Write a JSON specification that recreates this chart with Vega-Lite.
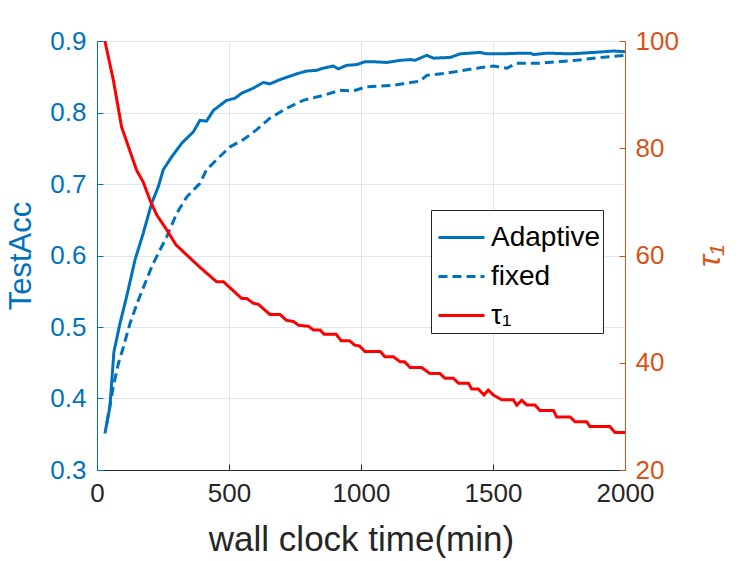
{
  "$schema": "https://vega.github.io/schema/vega-lite/v6.json",
  "width": 528,
  "height": 429,
  "autosize": {"type": "none"},
  "padding": {"left": 97, "top": 41, "right": 122, "bottom": 91},
  "background": "white",
  "config": {
    "font": "Liberation Sans",
    "view": {"stroke": "#262626", "strokeWidth": 1},
    "axis": {"labelFont": "Liberation Sans", "titleFont": "Liberation Sans", "titleFontWeight": "normal", "labelFontSize": 26, "titleFontSize": 32, "tickSize": -6, "domainWidth": 1}
  },
  "datasets": {
    "acc": [
      {"s":"Adaptive","t":30,"v":0.351},{"s":"Adaptive","t":49,"v":0.389},{"s":"Adaptive","t":64,"v":0.465},{"s":"Adaptive","t":87,"v":0.505},{"s":"Adaptive","t":112,"v":0.542},{"s":"Adaptive","t":144,"v":0.594},{"s":"Adaptive","t":175,"v":0.631},{"s":"Adaptive","t":207,"v":0.673},{"s":"Adaptive","t":232,"v":0.696},{"s":"Adaptive","t":251,"v":0.72},{"s":"Adaptive","t":283,"v":0.738},{"s":"Adaptive","t":321,"v":0.757},{"s":"Adaptive","t":365,"v":0.773},{"s":"Adaptive","t":390,"v":0.789},{"s":"Adaptive","t":415,"v":0.788},{"s":"Adaptive","t":441,"v":0.803},{"s":"Adaptive","t":491,"v":0.817},{"s":"Adaptive","t":523,"v":0.82},{"s":"Adaptive","t":548,"v":0.827},{"s":"Adaptive","t":592,"v":0.834},{"s":"Adaptive","t":630,"v":0.842},{"s":"Adaptive","t":655,"v":0.84},{"s":"Adaptive","t":693,"v":0.846},{"s":"Adaptive","t":756,"v":0.854},{"s":"Adaptive","t":794,"v":0.858},{"s":"Adaptive","t":832,"v":0.859},{"s":"Adaptive","t":857,"v":0.862},{"s":"Adaptive","t":895,"v":0.865},{"s":"Adaptive","t":914,"v":0.861},{"s":"Adaptive","t":946,"v":0.866},{"s":"Adaptive","t":984,"v":0.867},{"s":"Adaptive","t":1015,"v":0.871},{"s":"Adaptive","t":1047,"v":0.871},{"s":"Adaptive","t":1098,"v":0.87},{"s":"Adaptive","t":1150,"v":0.873},{"s":"Adaptive","t":1186,"v":0.874},{"s":"Adaptive","t":1205,"v":0.873},{"s":"Adaptive","t":1249,"v":0.88},{"s":"Adaptive","t":1275,"v":0.876},{"s":"Adaptive","t":1338,"v":0.877},{"s":"Adaptive","t":1375,"v":0.882},{"s":"Adaptive","t":1451,"v":0.884},{"s":"Adaptive","t":1477,"v":0.882},{"s":"Adaptive","t":1527,"v":0.882},{"s":"Adaptive","t":1616,"v":0.883},{"s":"Adaptive","t":1641,"v":0.883},{"s":"Adaptive","t":1654,"v":0.881},{"s":"Adaptive","t":1705,"v":0.883},{"s":"Adaptive","t":1793,"v":0.882},{"s":"Adaptive","t":1881,"v":0.884},{"s":"Adaptive","t":1957,"v":0.886},{"s":"Adaptive","t":2000,"v":0.885},
      {"s":"fixed","t":37,"v":0.365},{"s":"fixed","t":62,"v":0.417},{"s":"fixed","t":81,"v":0.449},{"s":"fixed","t":100,"v":0.472},{"s":"fixed","t":125,"v":0.505},{"s":"fixed","t":157,"v":0.538},{"s":"fixed","t":182,"v":0.561},{"s":"fixed","t":207,"v":0.584},{"s":"fixed","t":232,"v":0.603},{"s":"fixed","t":264,"v":0.626},{"s":"fixed","t":302,"v":0.659},{"s":"fixed","t":340,"v":0.682},{"s":"fixed","t":390,"v":0.701},{"s":"fixed","t":415,"v":0.72},{"s":"fixed","t":453,"v":0.734},{"s":"fixed","t":504,"v":0.752},{"s":"fixed","t":554,"v":0.762},{"s":"fixed","t":605,"v":0.776},{"s":"fixed","t":655,"v":0.792},{"s":"fixed","t":719,"v":0.806},{"s":"fixed","t":781,"v":0.817},{"s":"fixed","t":857,"v":0.824},{"s":"fixed","t":920,"v":0.831},{"s":"fixed","t":970,"v":0.83},{"s":"fixed","t":1021,"v":0.836},{"s":"fixed","t":1122,"v":0.838},{"s":"fixed","t":1224,"v":0.844},{"s":"fixed","t":1249,"v":0.852},{"s":"fixed","t":1325,"v":0.855},{"s":"fixed","t":1438,"v":0.862},{"s":"fixed","t":1502,"v":0.865},{"s":"fixed","t":1553,"v":0.862},{"s":"fixed","t":1590,"v":0.869},{"s":"fixed","t":1679,"v":0.869},{"s":"fixed","t":1816,"v":0.873},{"s":"fixed","t":1881,"v":0.876},{"s":"fixed","t":2000,"v":0.88}
    ],
    "tau": [
      {"s":"τ₁","t":30,"v":100},{"s":"τ₁","t":62,"v":92.7},{"s":"τ₁","t":93,"v":84},{"s":"τ₁","t":119,"v":80.3},{"s":"τ₁","t":150,"v":75.9},{"s":"τ₁","t":175,"v":73.7},{"s":"τ₁","t":201,"v":70.3},{"s":"τ₁","t":226,"v":67.6},{"s":"τ₁","t":264,"v":64.8},{"s":"τ₁","t":299,"v":62},{"s":"τ₁","t":340,"v":60.1},{"s":"τ₁","t":390,"v":57.8},{"s":"τ₁","t":453,"v":55.1},{"s":"τ₁","t":479,"v":55.1},{"s":"τ₁","t":548,"v":52},{"s":"τ₁","t":567,"v":52},{"s":"τ₁","t":592,"v":51.1},{"s":"τ₁","t":611,"v":50.9},{"s":"τ₁","t":655,"v":49},{"s":"τ₁","t":693,"v":49},{"s":"τ₁","t":718,"v":47.9},{"s":"τ₁","t":744,"v":47.7},{"s":"τ₁","t":763,"v":47},{"s":"τ₁","t":801,"v":46.8},{"s":"τ₁","t":820,"v":46.1},{"s":"τ₁","t":845,"v":46.1},{"s":"τ₁","t":861,"v":45.3},{"s":"τ₁","t":906,"v":45.3},{"s":"τ₁","t":925,"v":44.1},{"s":"τ₁","t":957,"v":44.1},{"s":"τ₁","t":976,"v":43.3},{"s":"τ₁","t":995,"v":43.1},{"s":"τ₁","t":1015,"v":42.1},{"s":"τ₁","t":1073,"v":42.1},{"s":"τ₁","t":1091,"v":41.1},{"s":"τ₁","t":1123,"v":41.1},{"s":"τ₁","t":1148,"v":40.2},{"s":"τ₁","t":1165,"v":40.2},{"s":"τ₁","t":1186,"v":39.1},{"s":"τ₁","t":1230,"v":39.1},{"s":"τ₁","t":1261,"v":38},{"s":"τ₁","t":1299,"v":38},{"s":"τ₁","t":1318,"v":37.1},{"s":"τ₁","t":1350,"v":37.1},{"s":"τ₁","t":1369,"v":36.2},{"s":"τ₁","t":1407,"v":36.2},{"s":"τ₁","t":1419,"v":35.1},{"s":"τ₁","t":1444,"v":35.1},{"s":"τ₁","t":1466,"v":34},{"s":"τ₁","t":1482,"v":34.9},{"s":"τ₁","t":1501,"v":34},{"s":"τ₁","t":1533,"v":33.1},{"s":"τ₁","t":1577,"v":33.1},{"s":"τ₁","t":1590,"v":32.1},{"s":"τ₁","t":1609,"v":33},{"s":"τ₁","t":1628,"v":32.1},{"s":"τ₁","t":1659,"v":32.1},{"s":"τ₁","t":1678,"v":31.1},{"s":"τ₁","t":1729,"v":31.1},{"s":"τ₁","t":1741,"v":29.9},{"s":"τ₁","t":1792,"v":29.9},{"s":"τ₁","t":1811,"v":29},{"s":"τ₁","t":1855,"v":29},{"s":"τ₁","t":1867,"v":28.1},{"s":"τ₁","t":1943,"v":28.1},{"s":"τ₁","t":1962,"v":27},{"s":"τ₁","t":2000,"v":27}
    ]
  },
  "layer": [
    {
      "data": {"name": "acc"},
      "mark": {"type": "line", "strokeWidth": 3, "clip": true},
      "encoding": {
        "x": {"field": "t", "type": "quantitative", "scale": {"domain": [0, 2000], "nice": false},
          "axis": {"values": [0, 500, 1000, 1500, 2000], "format": "d", "title": "wall clock time(min)", "titleFontSize": 35, "labelColor": "#262626", "titleColor": "#262626", "domainColor": "#262626", "tickColor": "#262626", "grid": true, "gridColor": "#e3e3e3", "labelPadding": 16, "titlePadding": 16, "labelFlush": false}},
        "y": {"field": "v", "type": "quantitative", "scale": {"domain": [0.3, 0.9], "nice": false, "zero": false},
          "axis": {"orient": "left", "values": [0.3, 0.4, 0.5, 0.6, 0.7, 0.8, 0.9], "format": ".1f", "title": "TestAcc", "titleFontSize": 31, "labelColor": "#0072BD", "titleColor": "#0072BD", "domainColor": "#0072BD", "tickColor": "#0072BD", "grid": true, "gridColor": "#dce8f3", "labelPadding": 17, "titlePadding": 12}},
        "color": {"field": "s", "type": "nominal", "scale": {"domain": ["Adaptive", "fixed", "τ₁"], "range": ["#0072BD", "#0072BD", "#FF0000"]},
          "legend": {"title": null, "orient": "none", "legendX": 334, "legendY": 169, "symbolType": "stroke", "symbolSize": 2116, "symbolStrokeWidth": 3, "labelFontSize": 28, "labelFont": "Liberation Sans", "labelColor": "#000000", "labelOffset": 5, "rowPadding": -8, "padding": 3, "symbolOffset": 3, "strokeColor": "#262626", "fillColor": "white"}},
        "strokeDash": {"field": "s", "type": "nominal", "scale": {"domain": ["Adaptive", "fixed", "τ₁"], "range": [[1, 0], [9, 5], [1, 0]]},
          "legend": {"title": null, "orient": "none", "legendX": 334, "legendY": 169, "symbolType": "stroke", "symbolSize": 2116, "symbolStrokeWidth": 3, "labelFontSize": 28, "labelFont": "Liberation Sans", "labelColor": "#000000", "labelOffset": 5, "rowPadding": -8, "padding": 3, "symbolOffset": 3, "strokeColor": "#262626", "fillColor": "white"}}
      }
    },
    {
      "data": {"name": "tau"},
      "mark": {"type": "line", "strokeWidth": 3, "clip": true},
      "encoding": {
        "x": {"field": "t", "type": "quantitative"},
        "y": {"field": "v", "type": "quantitative", "scale": {"domain": [20, 100], "nice": false, "zero": false},
          "axis": {"orient": "right", "values": [20, 40, 60, 80, 100], "title": "τ₁", "titleAngle": 270, "titleFontStyle": "italic", "titleFontSize": 32, "labelColor": "#D95319", "titleColor": "#D95319", "domainColor": "#D95319", "tickColor": "#D95319", "grid": false, "labelPadding": 16, "titlePadding": 48}},
        "color": {"field": "s", "type": "nominal"},
        "strokeDash": {"field": "s", "type": "nominal"}
      }
    }
  ],
  "resolve": {"scale": {"y": "independent"}}
}
